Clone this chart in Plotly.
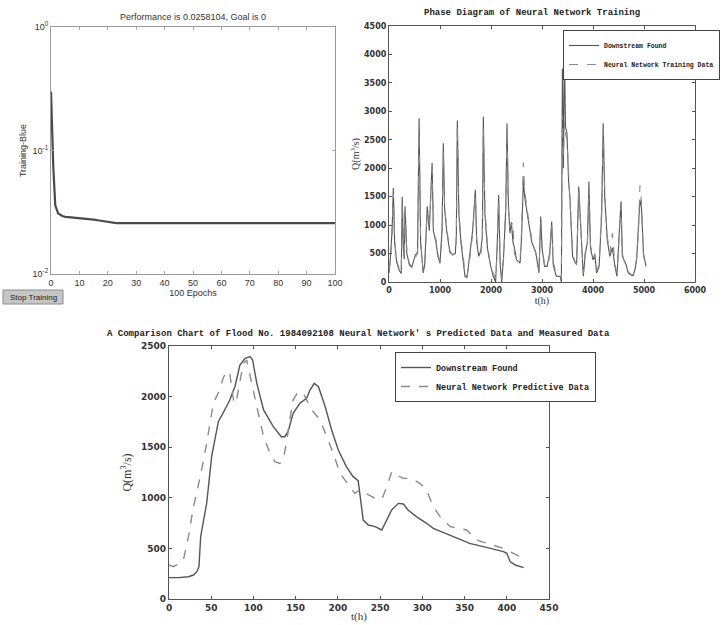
import plotly.graph_objects as go

# ---- training performance (log scale) ----
epochs = [0, 0.8, 1.5, 2.5, 4, 5, 7, 10, 13, 15, 17, 20, 23, 30, 40, 50, 60, 70, 80, 90, 100]
perf = [0.30, 0.074, 0.036, 0.031, 0.0295, 0.029, 0.0287, 0.0284, 0.0281, 0.0276, 0.0271, 0.0265,
        0.0258104, 0.0258104, 0.0258104, 0.0258104, 0.0258104, 0.0258104, 0.0258104, 0.0258104, 0.0258104]

# ---- training-phase hydrograph ----
t_train = [0, 30, 60, 85, 110, 150, 200, 240, 260, 280, 300, 315, 350, 400, 445, 480, 520, 560, 590,
           620, 650, 670, 700, 750, 790, 820, 845, 870, 920, 960, 1000, 1040, 1065, 1090, 1130, 1195,
           1250, 1300, 1320, 1340, 1370, 1410, 1457, 1490, 1530, 1590, 1640, 1693, 1720, 1760, 1800,
           1830, 1850, 1880, 1930, 1980, 2045, 2090, 2120, 2150, 2180, 2210, 2250, 2290, 2314, 2340,
           2370, 2400, 2430, 2460, 2500, 2570, 2600, 2635, 2660, 2720, 2800, 2880, 2940, 2975, 3000,
           3050, 3100, 3150, 3190, 3220, 3280, 3355, 3380, 3400, 3420, 3440, 3460, 3490, 3520, 3550,
           3600, 3650, 3680, 3720, 3740, 3770, 3810, 3850, 3890, 3920, 3950, 4000, 4040, 4070, 4120,
           4170, 4200, 4230, 4280, 4330, 4380, 4430, 4470, 4510, 4550, 4575, 4600, 4650, 4690, 4750,
           4790, 4830, 4855, 4890, 4920, 4950, 4990, 5040]
q_found_train = [160, 450, 900, 1650, 700, 350, 200, 150, 1500, 600, 400, 1330, 500, 300, 260, 350, 480,
                 500, 2880, 700, 250, 160, 300, 1330, 900, 1500, 2090, 900, 700, 450, 330, 900, 2440,
                 1300, 900, 520, 480, 500, 800, 2840, 1200, 700, 400, 100, 80, 500, 900, 1620, 700, 450,
                 550, 800, 2910, 1200, 600, 330, 100, 0, 600, 1530, 300, 0, 500, 1300, 2790, 1400, 860,
                 1050, 700, 600, 390, 333, 800, 1800, 1500, 1150, 700, 510, 158, 1150, 600, 275, 275,
                 500, 1065, 300, 100, 100, 0, 3750, 2000, 4130, 2730, 2615, 1800, 1445, 450, 333, 333,
                 1680, 1330, 760, 100, 500, 700, 1766, 600, 390, 450, 158, 275, 1200, 2790, 1500, 740,
                 450, 600, 275, 100, 800, 1420, 450, 390, 300, 158, 120, 117, 250, 390, 900, 1450, 1300,
                 500, 275]
q_net_train = [200, 400, 850, 1550, 750, 380, 230, 170, 1400, 650, 420, 1250, 520, 320, 280, 330, 420,
               550, 2600, 750, 300, 180, 280, 1250, 950, 1450, 2000, 950, 750, 480, 360, 850, 2300,
               1350, 950, 550, 470, 520, 750, 2750, 1250, 750, 450, 120, 100, 450, 850, 1550, 750, 550,
               500, 700, 2700, 1300, 650, 350, 150, 60, 500, 1450, 400, 50, 450, 1350, 2700, 1300, 950,
               1000, 1050, 500, 420, 380, 900, 2100, 1600, 1200, 750, 500, 200, 1050, 650, 300, 250,
               450, 1000, 350, 150, 120, 50, 2930, 2200, 2800, 2600, 2500, 1900, 1500, 500, 350, 300,
               1620, 1300, 800, 150, 550, 650, 1650, 650, 420, 500, 200, 300, 1300, 2700, 1600, 800,
               500, 860, 300, 150, 750, 1350, 500, 400, 320, 180, 130, 130, 280, 420, 850, 1700, 1400,
               450, 300]

# ---- flood 1984092108: measured vs predicted ----
t_meas = [0, 11, 23, 29, 33, 35.5, 37.5, 44.6, 50.5, 58.4, 66, 72, 78, 84, 90, 96, 99, 104, 112, 123.5,
          133, 137, 141, 147, 155, 163, 167, 172, 177, 185, 192.6, 200.5, 210, 218, 224, 230, 236, 244,
          252, 258, 263.7, 271.6, 277.5, 283, 293, 305, 313, 336.7, 356, 376, 396, 400, 404, 410, 420]
q_meas = [211, 211, 220, 237, 270, 320, 616, 945, 1406, 1752, 1868, 1966, 2098, 2312, 2378, 2395, 2362,
          2131, 1868, 1703, 1604, 1604, 1654, 1835, 1934, 1983, 2065, 2131, 2098, 1900, 1670, 1472, 1308,
          1209, 1169, 780, 731, 715, 682, 780, 880, 945, 939, 880, 814, 748, 698, 616, 550, 510, 468,
          451, 369, 336, 310]
t_pred = [0, 5, 13, 17, 23, 29, 37, 44.6, 52.5, 60, 64, 68, 70, 72, 74, 77, 80, 88, 92, 96, 104, 112,
          119.6, 125.5, 131, 135, 139, 143, 147, 153, 159, 163, 169, 179, 187, 194.6, 202.5, 214, 220,
          226, 234, 244, 252, 258, 263.7, 269.6, 277.5, 287, 297, 305, 313, 321, 333, 344.6, 352.5,
          364, 376, 396, 408, 420]
q_pred = [336, 320, 352, 385, 616, 912, 1209, 1538, 1934, 2065, 2181, 2246, 2253, 2230, 2098, 1930,
          1966, 2329, 2362, 2197, 1900, 1604, 1439, 1357, 1340, 1373, 1538, 1769, 1966, 2049, 2032,
          1966, 1868, 1769, 1604, 1439, 1242, 1110, 1044, 1077, 1044, 995, 985, 1110, 1258, 1225, 1192,
          1192, 1143, 1077, 912, 814, 715, 698, 682, 583, 550, 500, 451, 402]

W, H = 724, 625


def px(x):
    return x / W


def py(y):
    return 1 - y / H


mono = "Liberation Mono"
tick_font = dict(family="DejaVu Sans", size=8, color="#333", weight="bold")

fig = go.Figure()

# training performance
fig.add_trace(go.Scatter(x=epochs, y=perf, mode="lines", line=dict(color="#4a4a4a", width=2.2),
                         xaxis="x", yaxis="y", showlegend=False))

# training-phase hydrograph
fig.add_trace(go.Scatter(x=t_train, y=q_found_train, mode="lines", name="Downstream Found",
                         line=dict(color="#555", width=1.1), xaxis="x2", yaxis="y2", legend="legend"))
fig.add_trace(go.Scatter(x=t_train, y=q_net_train, mode="lines", name="Neural Network Training Data",
                         line=dict(color="#8a8a8a", width=1.1, dash="dash"), xaxis="x2", yaxis="y2",
                         legend="legend"))

# flood comparison
fig.add_trace(go.Scatter(x=t_meas, y=q_meas, mode="lines", name="Downstream Found",
                         line=dict(color="#555", width=1.4), xaxis="x3", yaxis="y3", legend="legend2"))
fig.add_trace(go.Scatter(x=t_pred, y=q_pred, mode="lines", name="Neural Network Predictive Data",
                         line=dict(color="#8a8a8a", width=1.4, dash="dash"), xaxis="x3", yaxis="y3",
                         legend="legend2"))

box_axis = dict(showline=True, linecolor="#555", linewidth=1.2, mirror="ticks", ticks="inside",
                ticklen=3, tickcolor="#555", showgrid=False, zeroline=False)

fig.update_layout(
    width=W, height=H, autosize=False, margin=dict(l=0, r=0, t=0, b=0, autoexpand=False),
    paper_bgcolor="white", plot_bgcolor="white",
    xaxis=dict(domain=[px(51), px(335)], range=[0, 100], tickvals=list(range(0, 101, 10)),
               showline=True, linecolor="#9a9a9a", mirror="ticks", ticks="inside", ticklen=3,
               tickcolor="#aaa", showgrid=False, zeroline=False,
               tickfont=dict(family="Liberation Sans", size=9, color="#333"),
               title=dict(text="100 Epochs", font=dict(family="Liberation Sans", size=9, color="#333"),
                          standoff=2),
               anchor="y"),
    yaxis=dict(domain=[py(274), py(27)], type="log", range=[-2, 0], tickvals=[0.01, 0.1, 1],
               ticktext=["10<sup>-2</sup>", "10<sup>-1</sup>", "10<sup>0</sup>"],
               showline=True, linecolor="#9a9a9a", mirror="ticks", ticks="inside", ticklen=3,
               tickcolor="#aaa", showgrid=False, zeroline=False,
               tickfont=dict(family="Liberation Sans", size=9, color="#333"),
               title=dict(text="Training-Blue", font=dict(family="Liberation Sans", size=9, color="#333"),
                          standoff=4),
               anchor="x"),
    xaxis2=dict(domain=[px(389), px(695)], range=[0, 6000], dtick=1000, tickfont=tick_font,
                title=dict(text="t(h)", font=dict(family="Liberation Serif", size=10, color="#333"),
                           standoff=0),
                anchor="y2", **box_axis),
    yaxis2=dict(domain=[py(282), py(26)], range=[0, 4500], dtick=500, tickfont=tick_font,
                title=dict(text="Q(m<sup>3</sup>/s)", font=dict(family="Liberation Serif", size=10,
                                                               color="#333"), standoff=2),
                anchor="x2", **box_axis),
    xaxis3=dict(domain=[px(169), px(549)], range=[0, 450], dtick=50,
                tickfont=dict(family="DejaVu Sans", size=9, color="#333", weight="bold"),
                title=dict(text="t(h)", font=dict(family="Liberation Serif", size=11, color="#333"),
                           standoff=0),
                anchor="y3", **box_axis),
    yaxis3=dict(domain=[py(599), py(346)], range=[0, 2500], dtick=500,
                tickfont=dict(family="DejaVu Sans", size=9, color="#333", weight="bold"),
                title=dict(text="Q(m<sup>3</sup>/s)", font=dict(family="Liberation Serif", size=12,
                                                               color="#333"), standoff=6),
                anchor="x3", **box_axis),
    legend=dict(x=px(563), y=py(30), xanchor="left", yanchor="top", bgcolor="white",
                bordercolor="#444", borderwidth=1, tracegroupgap=0,
                font=dict(family=mono, size=6.5, color="#222", weight="bold"),
                itemwidth=30),
    legend2=dict(x=px(395), y=py(352), xanchor="left", yanchor="top", bgcolor="white",
                 bordercolor="#444", borderwidth=1, tracegroupgap=0,
                 font=dict(family=mono, size=8.5, color="#222", weight="bold"),
                 itemwidth=30),
    annotations=[
        dict(text="Performance is 0.0258104, Goal is 0", x=px(193), y=py(17), xref="paper",
             yref="paper", xanchor="center", yanchor="middle", showarrow=False,
             font=dict(family="Liberation Sans", size=9, color="#333")),
        dict(text="Phase Diagram of Neural Network Training", x=px(532), y=py(13), xref="paper",
             yref="paper", xanchor="center", yanchor="middle", showarrow=False,
             font=dict(family=mono, size=9, color="#222", weight="bold")),
        dict(text="A Comparison Chart of Flood No. 1984092108 Neural Network' s Predicted Data and Measured Data",
             x=px(358), y=py(334), xref="paper", yref="paper", xanchor="center", yanchor="middle",
             showarrow=False, font=dict(family=mono, size=9, color="#222", weight="bold")),
        dict(text="Stop Training", x=px(33), y=py(297), xref="paper", yref="paper", xanchor="center",
             yanchor="middle", showarrow=False,
             font=dict(family="Liberation Sans", size=8, color="#222")),
    ],
    shapes=[
        dict(type="rect", xref="paper", yref="paper", x0=px(3), x1=px(63), y0=py(304), y1=py(290),
             fillcolor="#c6c6c6", line=dict(color="#8c8c8c", width=1), layer="below"),
    ],
)

fig.write_html("out.html")
